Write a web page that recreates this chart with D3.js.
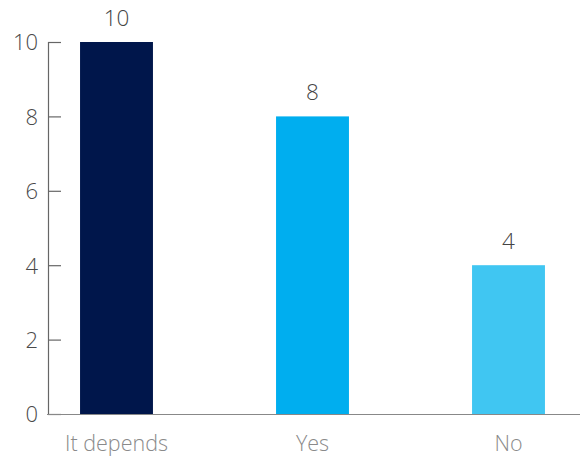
<!DOCTYPE html>
<html>
<head>
<meta charset="utf-8">
<script src="https://cdn.jsdelivr.net/npm/d3@7"></script>
<style>
  html, body { margin: 0; padding: 0; background: #fff; }
  svg text { font-family: "Open Sans", Lato, sans-serif; font-weight: 300; }
</style>
</head>
<body>
<svg id="chart" width="580" height="462"></svg>
<script>
const categories = ["It depends", "Yes", "No"];
const values = [10, 8, 4];
const colors = ["#00164b", "#00aeef", "#40c6f2"];
const yTicks = [0, 2, 4, 6, 8, 10];

const FONT = "'Open Sans', Lato, sans-serif";
const svg = d3.select("#chart");

const x = d3.scaleBand()
  .domain(categories)
  .range([18.5, 606.5])
  .paddingInner(0.628)
  .paddingOuter(0.314);

const y = d3.scaleLinear()
  .domain([0, 10])
  .range([414, 42]);

// bars
svg.selectAll("rect.bar")
  .data(values)
  .join("rect")
  .attr("class", "bar")
  .attr("x", (d, i) => x(categories[i]))
  .attr("width", x.bandwidth())
  .attr("y", d => y(d))
  .attr("height", d => y(0) - y(d))
  .attr("fill", (d, i) => colors[i]);

// value labels
svg.selectAll("text.val")
  .data(values)
  .join("text")
  .attr("class", "val")
  .attr("x", (d, i) => x(categories[i]) + x.bandwidth() / 2)
  .attr("y", d => y(d) - 16)
  .attr("text-anchor", "middle")
  .attr("font-size", 22.5)
  .attr("fill", "#444")
  .text(d => d);

// y axis
const yAxis = svg.append("g")
  .attr("transform", "translate(48,0)")
  .call(d3.axisRight(y).tickValues(yTicks).tickSize(13).tickFormat(d3.format("d")));
yAxis.select(".domain").attr("stroke", "#666").attr("stroke-width", 1.2)
  .attr("d", `M0.5,${y(10)}V${y(0)}`);
yAxis.selectAll(".tick line").attr("stroke", "#666").attr("stroke-width", 1.2);
yAxis.selectAll(".tick text")
  .attr("x", -10)
  .attr("dy", "0.36em")
  .attr("text-anchor", "end")
  .attr("font-size", 22)
  .attr("fill", "#4a4a4a")
  .style("font-family", FONT)
  .style("font-weight", 300);

// x axis baseline and labels
const xAxis = svg.append("g")
  .attr("transform", `translate(0,${y(0)})`)
  .call(d3.axisBottom(x).tickSize(0).tickPadding(22));
xAxis.select(".domain").attr("stroke", "#888").attr("stroke-width", 1.2)
  .attr("d", "M47,0.5H580");
xAxis.selectAll(".tick text")
  .attr("font-size", 21.5)
  .attr("fill", "#8a8a8a")
  .style("font-family", FONT)
  .style("font-weight", 300);
</script>
</body>
</html>
